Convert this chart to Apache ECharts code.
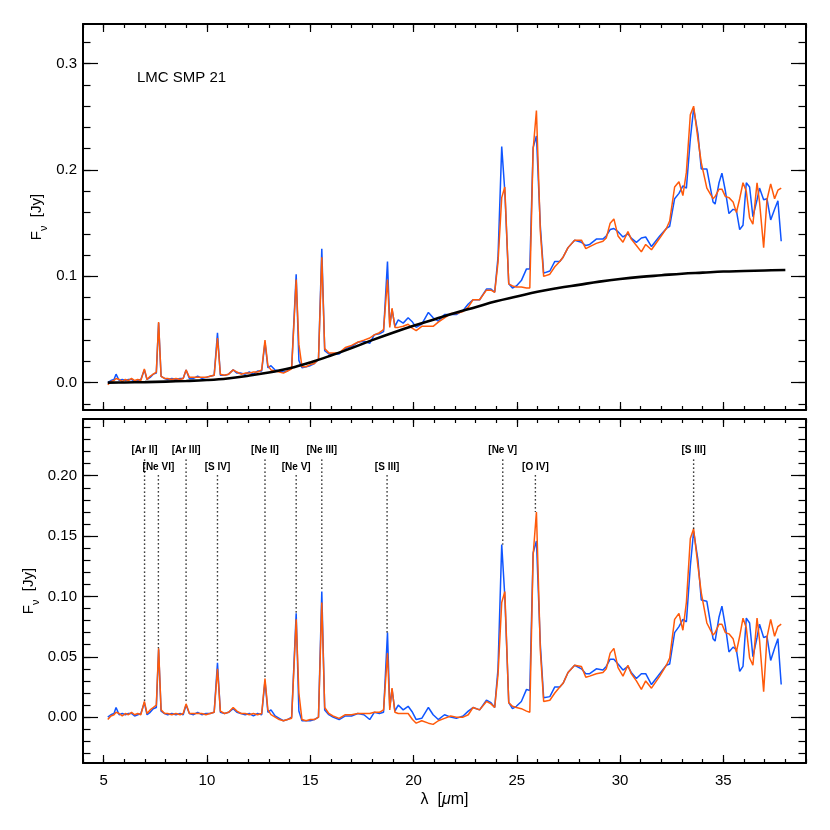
<!DOCTYPE html>
<html>
<head>
<meta charset="utf-8">
<script src="https://cdn.jsdelivr.net/npm/echarts@6/dist/echarts.min.js"></script>
<style>
html,body{margin:0;padding:0;background:#fff;}
#chart{width:830px;height:830px;}
</style>
</head>
<body>
<div id="chart"></div>
<script>
// ---------------- DATA ----------------
const wavelength = [
 5.2,5.35,5.5,5.6,5.75,5.9,6.05,6.2,6.35,6.5,
 6.65,6.8,6.97,7.1,7.25,7.4,7.55,7.66,7.78,7.95,
 8.1,8.3,8.5,8.7,8.85,8.99,9.15,9.35,9.55,9.75,
 9.95,10.15,10.35,10.51,10.65,10.85,11.05,11.27,11.45,11.65,
 11.85,12.05,12.25,12.45,12.65,12.81,12.95,13.1,13.3,13.5,
 13.7,13.9,14.1,14.32,14.45,14.6,14.8,15.0,15.2,15.4,
 15.56,15.7,15.9,16.1,16.4,16.7,17.0,17.3,17.6,17.88,
 18.1,18.35,18.55,18.74,18.85,18.96,19.1,19.26,19.5,19.74,
 19.95,20.13,20.4,20.72,20.95,21.2,21.5,21.8,22.07,22.4,
 22.65,22.88,23.2,23.53,23.75,23.93,24.09,24.27,24.42,24.61,
 24.79,24.98,25.22,25.47,25.63,25.79,25.95,26.14,26.3,26.6,
 26.84,27.08,27.24,27.48,27.8,28.13,28.34,28.53,28.85,29.17,
 29.33,29.52,29.7,29.9,30.14,30.38,30.54,30.79,31.03,31.24,
 31.52,31.92,32.24,32.4,32.64,32.85,33.04,33.21,33.4,33.56,
 33.77,33.93,34.2,34.5,34.6,34.79,34.93,35.1,35.27,35.47,
 35.63,35.79,35.95,36.11,36.27,36.43,36.63,36.75,36.95,37.11,
 37.29,37.48,37.64,37.8
];
// observed spectra (upper panel)
const fluxBlue = [
 0.000,0.002,0.003,0.008,0.002,0.003,0.002,0.003,0.003,0.001,
 0.002,0.003,0.012,0.003,0.005,0.008,0.009,0.056,0.006,0.004,
 0.003,0.004,0.003,0.004,0.004,0.012,0.004,0.004,0.006,0.004,
 0.005,0.006,0.007,0.047,0.007,0.007,0.008,0.012,0.009,0.009,
 0.008,0.010,0.008,0.011,0.011,0.038,0.014,0.016,0.012,0.011,
 0.010,0.011,0.014,0.102,0.021,0.014,0.015,0.016,0.018,0.022,
 0.126,0.030,0.027,0.027,0.027,0.032,0.034,0.038,0.039,0.037,
 0.045,0.046,0.048,0.114,0.054,0.069,0.053,0.059,0.056,0.061,
 0.057,0.052,0.055,0.066,0.061,0.058,0.064,0.064,0.064,0.068,
 0.074,0.078,0.078,0.088,0.088,0.085,0.118,0.222,0.180,0.093,
 0.089,0.091,0.096,0.107,0.107,0.221,0.232,0.147,0.103,0.105,
 0.114,0.114,0.118,0.127,0.134,0.132,0.129,0.130,0.135,0.135,
 0.138,0.144,0.145,0.142,0.137,0.140,0.136,0.132,0.136,0.137,
 0.128,0.138,0.145,0.147,0.173,0.178,0.185,0.183,0.229,0.258,
 0.234,0.201,0.201,0.170,0.168,0.188,0.197,0.180,0.159,0.163,
 0.162,0.144,0.148,0.188,0.184,0.156,0.172,0.183,0.172,0.173,
 0.153,0.163,0.171,0.133
];
const fluxOrange = [
 -0.002,0.001,0.002,0.004,0.003,0.001,0.003,0.002,0.004,0.002,
 0.003,0.002,0.013,0.003,0.006,0.008,0.010,0.057,0.006,0.004,
 0.004,0.003,0.004,0.003,0.004,0.012,0.005,0.005,0.005,0.005,
 0.005,0.006,0.007,0.042,0.008,0.007,0.008,0.012,0.010,0.008,
 0.009,0.009,0.010,0.010,0.012,0.040,0.016,0.012,0.011,0.010,
 0.009,0.011,0.013,0.097,0.036,0.015,0.015,0.017,0.018,0.022,
 0.118,0.032,0.028,0.028,0.028,0.033,0.035,0.038,0.040,0.042,
 0.045,0.047,0.050,0.097,0.052,0.070,0.052,0.052,0.053,0.055,
 0.051,0.049,0.053,0.053,0.053,0.057,0.061,0.065,0.065,0.067,
 0.071,0.078,0.078,0.087,0.087,0.085,0.113,0.174,0.184,0.093,
 0.091,0.090,0.090,0.089,0.089,0.219,0.256,0.142,0.100,0.102,
 0.109,0.114,0.118,0.127,0.134,0.134,0.126,0.128,0.131,0.133,
 0.136,0.150,0.154,0.138,0.132,0.142,0.135,0.129,0.123,0.130,
 0.125,0.136,0.145,0.152,0.184,0.189,0.176,0.198,0.252,0.260,
 0.229,0.207,0.183,0.173,0.175,0.182,0.182,0.175,0.174,0.170,
 0.160,0.173,0.188,0.180,0.155,0.149,0.188,0.170,0.127,0.172,
 0.187,0.173,0.181,0.183
];
// continuum-subtracted spectra (lower panel)
const residualBlue = [
 0.000,0.002,0.003,0.008,0.002,0.003,0.002,0.003,0.003,0.001,
 0.002,0.003,0.012,0.002,0.004,0.007,0.008,0.056,0.005,0.003,
 0.002,0.003,0.002,0.003,0.002,0.010,0.003,0.002,0.004,0.002,
 0.003,0.003,0.004,0.045,0.004,0.003,0.004,0.007,0.004,0.003,
 0.002,0.003,0.001,0.003,0.002,0.030,0.004,0.006,0.001,-0.001,
 -0.003,-0.002,0.000,0.086,0.005,-0.003,-0.003,-0.003,-0.002,0.000,
 0.104,0.006,0.002,0.000,-0.002,0.001,0.001,0.003,0.002,-0.002,
 0.004,0.003,0.004,0.070,0.008,0.023,0.005,0.010,0.006,0.009,
 0.004,-0.002,-0.001,0.008,0.002,-0.002,0.002,0.000,-0.001,0.001,
 0.005,0.008,0.006,0.014,0.012,0.008,0.040,0.143,0.100,0.012,
 0.007,0.009,0.013,0.023,0.022,0.136,0.146,0.060,0.016,0.017,
 0.025,0.025,0.028,0.037,0.043,0.040,0.036,0.036,0.040,0.039,
 0.042,0.048,0.048,0.044,0.039,0.042,0.037,0.032,0.036,0.036,
 0.027,0.036,0.043,0.044,0.070,0.075,0.081,0.079,0.125,0.154,
 0.130,0.097,0.096,0.065,0.063,0.083,0.092,0.075,0.054,0.058,
 0.056,0.038,0.042,0.082,0.078,0.050,0.066,0.077,0.066,0.067,
 0.047,0.057,0.065,0.027
];
const residualOrange = [
 -0.002,0.001,0.002,0.004,0.003,0.001,0.003,0.002,0.004,0.002,
 0.003,0.002,0.013,0.003,0.006,0.008,0.010,0.057,0.006,0.003,
 0.003,0.002,0.003,0.002,0.003,0.011,0.003,0.003,0.003,0.003,
 0.002,0.003,0.004,0.040,0.005,0.003,0.004,0.008,0.005,0.003,
 0.003,0.002,0.003,0.002,0.003,0.032,0.006,0.002,0.000,-0.002,
 -0.003,-0.002,-0.001,0.081,0.020,-0.002,-0.003,-0.002,-0.002,0.000,
 0.095,0.008,0.003,0.001,-0.001,0.002,0.002,0.003,0.003,0.003,
 0.004,0.004,0.006,0.053,0.006,0.024,0.004,0.003,0.003,0.003,
 -0.002,-0.005,-0.003,-0.005,-0.006,-0.003,-0.001,0.001,0.000,0.000,
 0.002,0.008,0.006,0.013,0.011,0.008,0.035,0.095,0.104,0.012,
 0.009,0.008,0.007,0.005,0.004,0.134,0.170,0.055,0.013,0.014,
 0.020,0.025,0.028,0.037,0.043,0.042,0.033,0.034,0.036,0.037,
 0.040,0.053,0.057,0.041,0.034,0.043,0.036,0.030,0.023,0.030,
 0.024,0.034,0.043,0.049,0.081,0.086,0.072,0.095,0.148,0.156,
 0.125,0.103,0.078,0.068,0.070,0.077,0.077,0.070,0.069,0.065,
 0.054,0.067,0.082,0.074,0.049,0.043,0.082,0.064,0.021,0.066,
 0.081,0.067,0.075,0.077
];
// fitted continuum (black curve)
const continuumWavelength = [5.2,6,7,8,9,10,11,12,13,14,15,16,17,18,19,20,21,22,23,24,25,26,27,28,29,30,31,32,33,34,35,36,37,38];
const continuumFlux = [0.0000,0.0002,0.0005,0.0010,0.0016,0.0025,0.0040,0.0065,0.0095,0.0135,0.0190,0.0255,0.0325,0.0400,0.0470,0.0535,0.0595,0.0655,0.0710,0.0765,0.0810,0.0855,0.0890,0.0920,0.0950,0.0975,0.0995,0.1010,0.1025,0.1035,0.1045,0.1050,0.1055,0.1060];
// emission line identifications (lower panel)
const lineNames = ['[Ar II]','[Ne VI]','[Ar III]','[S IV]','[Ne II]','[Ne V]','[Ne III]','[S III]','[Ne V]','[O IV]','[S III]'];
const lineWavelength = [6.98,7.65,8.99,10.51,12.81,14.32,15.56,18.72,24.32,25.9,33.56];
const linePeak = [0.013,0.057,0.012,0.046,0.032,0.086,0.104,0.070,0.143,0.170,0.156];
// axis ticks
const xMajorTicks = [5,10,15,20,25,30,35];
const topYMajorTicks = [0,0.1,0.2,0.3];
const topYMinorTicks = [-0.02,0,0.02,0.04,0.06,0.08,0.1,0.12,0.14,0.16,0.18,0.2,0.22,0.24,0.26,0.28,0.3,0.32];
const botYMajorTicks = [0,0.05,0.1,0.15,0.2];
const botYMinorTicks = [-0.03,-0.02,-0.01,0,0.01,0.02,0.03,0.04,0.05,0.06,0.07,0.08,0.09,0.1,0.11,0.12,0.13,0.14,0.15,0.16,0.17,0.18,0.19,0.2,0.21,0.22,0.23,0.24];
const objectName = 'LMC SMP 21';

// ---------------- CHART ----------------
const FONT = '"Liberation Sans", Helvetica, Arial, sans-serif';
const BLUE = '#0f55ff';
const ORANGE = '#ff5a0a';
const chart = echarts.init(document.getElementById('chart'), null, {renderer: 'canvas'});

const grids = [
  {left: 83, top: 24, width: 723, height: 386},
  {left: 83, top: 419, width: 723, height: 344}
];

function xAxesFor(g, withLabels) {
  const base = {gridIndex: g, type: 'value', min: 4, max: 39, splitLine: {show: false}};
  const tickStyle = {color: '#000', width: 1.2};
  const frame = {show: true, onZero: false, lineStyle: {color: '#000', width: 2}};
  const axes = [
    Object.assign({}, base, {
      position: 'bottom', axisLine: frame,
      axisTick: {show: true, inside: true, length: 8, customValues: xMajorTicks, lineStyle: tickStyle},
      axisLabel: {show: withLabels, customValues: xMajorTicks, margin: 10, fontSize: 15, color: '#000', fontFamily: FONT},
      name: withLabels ? '{l|λ}  [{m|μ}m]' : '', nameLocation: 'middle', nameGap: 29,
      nameTextStyle: {fontSize: 16, color: '#000', fontFamily: FONT, rich: {l: {fontSize: 16, fontFamily: FONT}, m: {fontSize: 16, fontStyle: 'italic', fontFamily: FONT}}}
    }),
    Object.assign({}, base, {
      position: 'bottom', interval: 1, axisLine: {show: false, onZero: false},
      axisTick: {show: true, inside: true, length: 4, lineStyle: tickStyle}, axisLabel: {show: false}
    }),
    Object.assign({}, base, {
      position: 'top', axisLine: frame,
      axisTick: {show: true, inside: true, length: 8, customValues: xMajorTicks, lineStyle: tickStyle}, axisLabel: {show: false}
    }),
    Object.assign({}, base, {
      position: 'top', interval: 1, axisLine: {show: false, onZero: false},
      axisTick: {show: true, inside: true, length: 4, lineStyle: tickStyle}, axisLabel: {show: false}
    })
  ];
  return axes;
}

function yAxesFor(g, min, max, major, minor, digits, nameGap) {
  const base = {gridIndex: g, type: 'value', min: min, max: max, splitLine: {show: false}};
  const tickStyle = {color: '#000', width: 1.2};
  const frame = {show: true, onZero: false, lineStyle: {color: '#000', width: 2}};
  return [
    Object.assign({}, base, {
      position: 'left', axisLine: frame,
      axisTick: {show: true, inside: true, length: 15, customValues: major, lineStyle: tickStyle},
      axisLabel: {show: true, customValues: major, margin: 6, fontSize: 15, color: '#000', fontFamily: FONT,
        formatter: v => Number(v).toFixed(digits)},
      name: '{f|F}{s|ν}  {f|[Jy]}', nameLocation: 'middle', nameRotate: 90, nameGap: nameGap,
      nameMoveOverlap: false,
      nameTextStyle: {color: '#000', fontFamily: FONT, fontSize: 15,
        rich: {f: {fontSize: 15, fontFamily: FONT, lineHeight: 24, verticalAlign: 'middle'},
               s: {fontSize: 11, fontFamily: FONT, lineHeight: 24, verticalAlign: 'bottom'}}}
    }),
    Object.assign({}, base, {
      position: 'left', axisLine: {show: false, onZero: false},
      axisTick: {show: true, inside: true, length: 7.5, customValues: minor, lineStyle: tickStyle},
      axisLabel: {show: false}
    }),
    Object.assign({}, base, {
      position: 'right', axisLine: frame,
      axisTick: {show: true, inside: true, length: 15, customValues: major, lineStyle: tickStyle},
      axisLabel: {show: false}
    }),
    Object.assign({}, base, {
      position: 'right', axisLine: {show: false, onZero: false},
      axisTick: {show: true, inside: true, length: 7.5, customValues: minor, lineStyle: tickStyle},
      axisLabel: {show: false}
    })
  ];
}

const xAxes = xAxesFor(0, false).concat(xAxesFor(1, true));
const yAxes = yAxesFor(0, -0.0257, 0.3373, topYMajorTicks, topYMinorTicks, 1, 34)
  .concat(yAxesFor(1, -0.038, 0.247, botYMajorTicks, botYMinorTicks, 2, 42));

function pairs(xs, ys) { return xs.map((x, i) => [x, ys[i]]); }

function lineSeries(name, data, color, width, xi, yi, z, smooth) {
  return {
    name: name, type: 'line', xAxisIndex: xi, yAxisIndex: yi, data: data,
    showSymbol: false, symbol: 'none', smooth: smooth || false, z: z,
    lineStyle: {color: color, width: width}, animation: false, silent: true
  };
}

const series = [
  lineSeries('blue', pairs(wavelength, fluxBlue), BLUE, 1.5, 0, 0, 2),
  lineSeries('orange', pairs(wavelength, fluxOrange), ORANGE, 1.5, 0, 0, 3),
  lineSeries('continuum', pairs(continuumWavelength, continuumFlux), '#000', 2.6, 0, 0, 4, 0.4),
  lineSeries('blue residual', pairs(wavelength, residualBlue), BLUE, 1.5, 4, 4, 2),
  lineSeries('orange residual', pairs(wavelength, residualOrange), ORANGE, 1.5, 4, 4, 3),
  {
    type: 'custom', xAxisIndex: 4, yAxisIndex: 4, z: 5, animation: false, silent: true,
    data: lineWavelength.map((w, i) => [w, linePeak[i], i]),
    encode: {x: 0, y: 1},
    renderItem: function (params, api) {
      const i = api.value(2);
      const w = api.value(0);
      const upper = (i % 2) === 0;
      const labelV = upper ? 0.2213 : 0.2068;
      const startV = upper ? 0.2135 : 0.2005;
      const p0 = api.coord([w, startV]);
      const p1 = api.coord([w, api.value(1)]);
      const pl = api.coord([w, labelV]);
      return {
        type: 'group',
        children: [
          {type: 'line', shape: {x1: p0[0], y1: p0[1], x2: p1[0], y2: p1[1]},
           style: {stroke: '#000', lineWidth: 1.4, lineDash: [1.4, 2.6]}},
          {type: 'text', x: pl[0], y: pl[1],
           style: {text: lineNames[i], align: 'center', verticalAlign: 'middle',
                   fontSize: 10, fontWeight: 'bold', fontFamily: FONT, fill: '#000'}}
        ]
      };
    }
  }
];

chart.setOption({
  backgroundColor: '#fff',
  animation: false,
  grid: grids,
  xAxis: xAxes,
  yAxis: yAxes,
  series: series,
  graphic: [
    {type: 'text', left: 137, top: 70, style: {text: objectName, fontSize: 15, fontFamily: FONT, fill: '#000'}}
  ]
});
</script>
</body>
</html>
